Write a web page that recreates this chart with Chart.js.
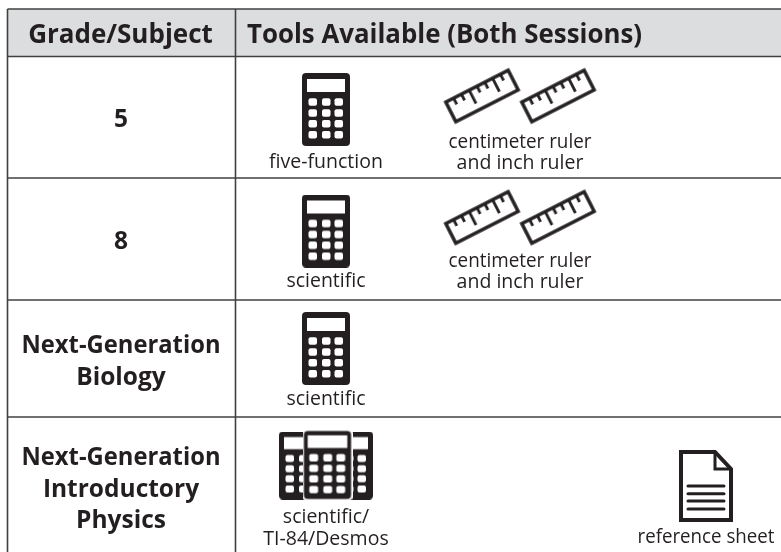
<!DOCTYPE html>
<html>
<head>
<meta charset="utf-8">
<title>Tools Available</title>
<script src="https://cdn.jsdelivr.net/npm/chart.js@4"></script>
<style>
  html, body { margin: 0; padding: 0; background: #fff; }
  canvas { display: block; }
</style>
</head>
<body>
<canvas id="toolsChart" width="781" height="552"></canvas>
<script>
// table content
const headerLabels = ["Grade/Subject", "Tools Available (Both Sessions)"];
const gradeLabels = [
  ["5"],
  ["8"],
  ["Next-Generation", "Biology"],
  ["Next-Generation", "Introductory", "Physics"],
];
const calculatorCaptions = [
  ["five-function"],
  ["scientific"],
  ["scientific"],
  ["scientific/", "TI-84/Desmos"],
];
const rulerCaptions = [
  ["centimeter ruler", "and inch ruler"],
  ["centimeter ruler", "and inch ruler"],
];
const sheetCaptions = [["reference sheet"]];

// layout, in picture units
const INK = "#231f20";
const RULE = "#404041";
const HEADER_FILL = "#dcddde";
const tableLeft = 7.5, tableRight = 781, dividerX = 235.5, firstColX = 121;
const ruleYs = [9, 56.5, 178, 300, 417];
const tableBottom = 552;
const calcX = 326, rulerXs = [482, 558], sheetX = 706, captionRulerX = 520;
const calcYs = [109.5, 231, 348.5];
const rulerYs = [96, 217.5];

const FONT = '"Open Sans", "Noto Sans", sans-serif';

function newIcon(w, h) {
  const c = document.createElement("canvas");
  c.width = w;
  c.height = h;
  return [c, c.getContext("2d")];
}

function calculatorIcon(w, h, ring) {
  const [c, g] = newIcon(w, h);
  const inset = ring ? 1.4 : 0;
  const sx = w / 48, sy = h / 73;
  if (ring) {
    // the front calculator of the trio has a thin white ring
    g.fillStyle = "#fff";
    g.beginPath();
    g.roundRect(0, 0, w, h, 4);
    g.fill();
  }
  g.fillStyle = INK;
  g.beginPath();
  g.roundRect(inset, inset, w - inset * 2, h - inset * 2, 4);
  g.fill();
  g.fillStyle = "#fff";
  g.fillRect(5 * sx, 6 * sy, 38 * sx, 13 * sy);
  for (const by of [25.3, 36.3, 47, 58]) {
    for (const bx of [6.5, 20, 32.5]) {
      g.beginPath();
      g.roundRect(bx * sx, by * sy, 8.5 * sx, 7.5 * sy, 2);
      g.fill();
    }
  }
  return c;
}

function rulerIcon() {
  const [c, g] = newIcon(74, 26);
  g.strokeStyle = INK;
  g.lineWidth = 3.4;
  g.strokeRect(2, 2, 70, 22);
  const ticks = [7, 7, 15, 7, 7, 15, 7];
  ticks.forEach((len, i) => {
    const x = 2 + (i + 1) * 70 / 8;
    g.lineWidth = 2.8;
    g.beginPath();
    g.moveTo(x, 2);
    g.lineTo(x, 2 + len);
    g.stroke();
  });
  return c;
}

function sheetIcon() {
  const [c, g] = newIcon(54, 72);
  g.strokeStyle = INK;
  g.lineWidth = 4;
  g.lineJoin = "miter";
  g.beginPath();
  g.moveTo(2, 2);
  g.lineTo(36, 2);
  g.lineTo(52, 19);
  g.lineTo(52, 70);
  g.lineTo(2, 70);
  g.closePath();
  g.stroke();
  g.lineWidth = 3;
  g.beginPath();
  g.moveTo(36, 2);
  g.lineTo(36, 19);
  g.lineTo(52, 19);
  g.stroke();
  g.lineCap = "round";
  g.lineWidth = 3;
  for (const y of [36, 43.7, 51, 59]) {
    g.beginPath();
    g.moveTo(9, y);
    g.lineTo(45, y);
    g.stroke();
  }
  return c;
}

function ruleDataset(x0, y0, x1, y1) {
  return {
    type: "line",
    data: [{ x: x0, y: y0 }, { x: x1, y: y1 }],
    borderColor: RULE,
    borderWidth: 1.6,
    pointRadius: 0,
    order: 5,
  };
}

function iconDataset(points, icon, extra) {
  return Object.assign({
    type: "scatter",
    data: points,
    pointStyle: icon,
    pointRadius: 10,
    order: 2,
  }, extra);
}

// header band and all the words of the table
const tableText = {
  id: "tableText",
  beforeDatasetsDraw(chart) {
    const { ctx, scales: { x, y } } = chart;
    ctx.save();
    ctx.fillStyle = HEADER_FILL;
    ctx.fillRect(x.getPixelForValue(tableLeft), y.getPixelForValue(ruleYs[0]),
      x.getPixelForValue(tableRight) - x.getPixelForValue(tableLeft),
      y.getPixelForValue(ruleYs[1]) - y.getPixelForValue(ruleYs[0]));
    ctx.restore();
  },
  afterDatasetsDraw(chart) {
    const { ctx, scales: { x, y } } = chart;
    const put = (text, px, py, font, align, maxW) => {
      ctx.font = font;
      ctx.textAlign = align;
      ctx.textBaseline = "alphabetic";
      ctx.fillText(text, x.getPixelForValue(px), y.getPixelForValue(py), maxW);
    };
    ctx.save();
    ctx.fillStyle = INK;
    const headFont = "700 26px " + FONT;
    put(headerLabels[0], 120.5, 43, headFont, "center", 186);
    put(headerLabels[1], 247, 43, headFont, "left", 395);

    const gradeFont = "700 24.5px " + FONT;
    const gradeBase = [[127], [249], [353, 385], [465, 497, 528]];
    gradeLabels.forEach((lines, r) => {
      lines.forEach((t, i) => put(t, firstColX, gradeBase[r][i], gradeFont, "center", 199));
    });

    const capFont = "400 19.5px " + FONT;
    const calcBase = [[168], [287], [405], [523, 545]];
    const calcWidths = [114, 79, 79, 130];
    calculatorCaptions.forEach((lines, r) => {
      lines.forEach((t, i) => put(t, calcX, calcBase[r][i], capFont, "center", calcWidths[r]));
    });
    const rulerBase = [[148, 169], [267, 288]];
    rulerCaptions.forEach((lines, r) => {
      lines.forEach((t, i) => put(t, captionRulerX, rulerBase[r][i], capFont, "center", 143));
    });
    sheetCaptions.forEach(lines => {
      lines.forEach(t => put(t, sheetX, 543, capFont, "center", 137));
    });
    ctx.restore();
  },
};

const calcPoints = calcYs.map(cy => ({ x: calcX, y: cy }));
const rulerPoints = [];
rulerYs.forEach(ry => rulerXs.forEach(rx => rulerPoints.push({ x: rx, y: ry })));

new Chart(document.getElementById("toolsChart"), {
  data: {
    datasets: [
      ...ruleYs.map(ry => ruleDataset(tableLeft, ry, tableRight, ry)),
      ruleDataset(tableLeft, ruleYs[0], tableLeft, tableBottom),
      ruleDataset(dividerX, ruleYs[0], dividerX, tableBottom),
      iconDataset(calcPoints, calculatorIcon(48, 73, false)),
      // back pair of the calculator trio, then the front one
      iconDataset([{ x: 303, y: 465.5 }, { x: 349, y: 465.5 }], calculatorIcon(48, 68, false), { order: 3 }),
      iconDataset([{ x: 327.5, y: 465 }], calculatorIcon(50, 71, true), { order: 1 }),
      iconDataset(rulerPoints, rulerIcon(), { rotation: -27 }),
      iconDataset([{ x: sheetX, y: 486 }], sheetIcon()),
    ],
  },
  options: {
    responsive: false,
    animation: false,
    events: [],
    layout: { padding: 0, autoPadding: false },
    plugins: { legend: { display: false }, tooltip: { enabled: false } },
    scales: {
      x: { type: "linear", min: 0, max: 781, display: false },
      y: { type: "linear", min: 0, max: 552, reverse: true, display: false },
    },
  },
  plugins: [tableText],
});
</script>
</body>
</html>
